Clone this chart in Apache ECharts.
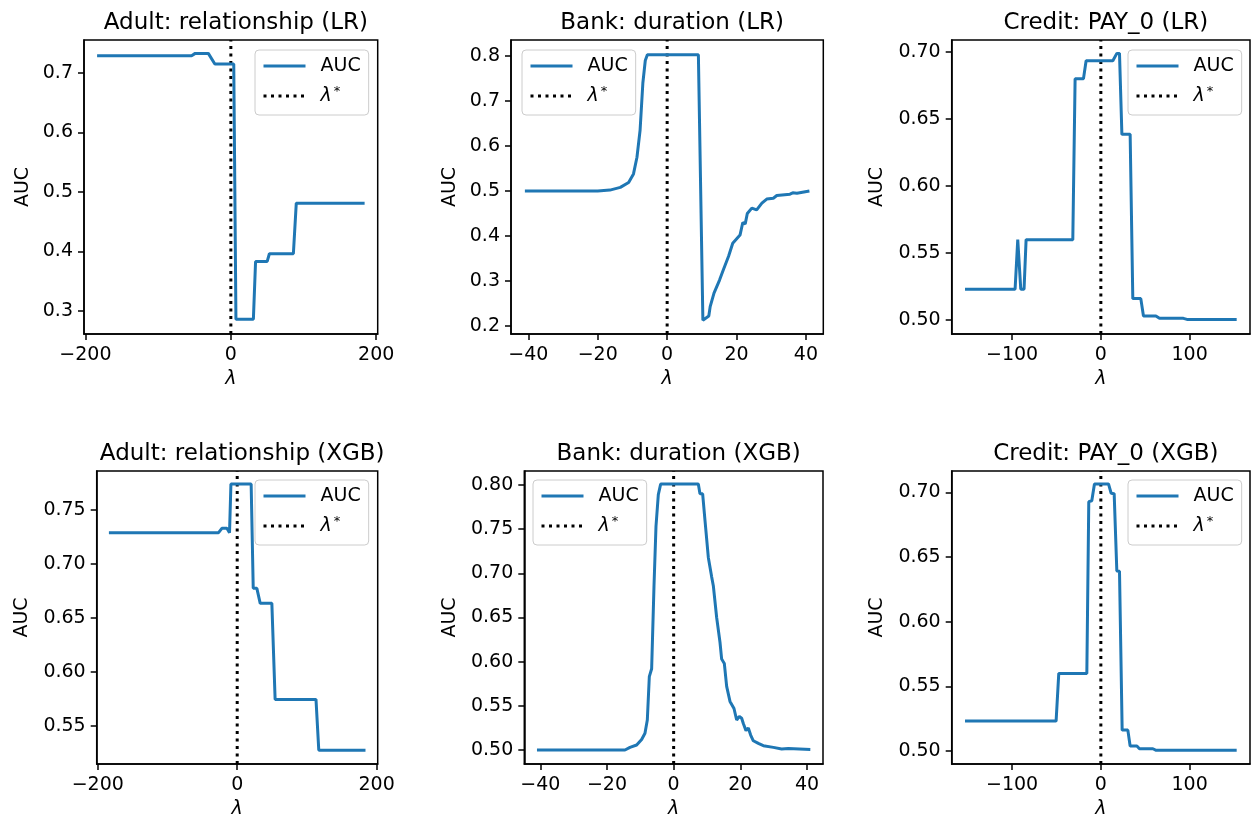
<!DOCTYPE html>
<html>
<head>
<meta charset="utf-8">
<script src="https://cdn.jsdelivr.net/npm/echarts@6/dist/echarts.min.js"></script>
<style>
  body { margin: 0; background: #fff; }
  #main { width: 1252px; height: 825px; }
</style>
</head>
<body>
<div id="main"></div>
<script>
// [lambda, AUC] points
var adultLR = [[-184, 0.729], [-54, 0.729], [-49, 0.733], [-31, 0.733], [-22, 0.715], [4, 0.715], [7, 0.286],
  [31, 0.286], [34, 0.383], [50, 0.383], [53, 0.396], [86, 0.396], [90, 0.481], [184, 0.481]];
var bankLR = [[-41, 0.5], [-20, 0.5], [-16.5, 0.502], [-13.5, 0.508], [-11.1, 0.519], [-9.7, 0.538], [-8.7, 0.575],
  [-7.8, 0.635], [-7, 0.74], [-6.3, 0.79], [-5.7, 0.803], [9, 0.803], [9.3, 0.8], [10.3, 0.213], [12, 0.222],
  [12.4, 0.243], [13.5, 0.273], [15.1, 0.302], [16.2, 0.325], [17.7, 0.355], [18.9, 0.384], [21, 0.402],
  [21.8, 0.43], [22.5, 0.427], [23.1, 0.45], [24.4, 0.462], [25.8, 0.458], [27.3, 0.473], [28.7, 0.482],
  [30.6, 0.484], [31.6, 0.49], [35.4, 0.493], [36.2, 0.496], [37.4, 0.495], [41, 0.5]];
var creditLR = [[-153, 0.523], [-96.6, 0.523], [-93.6, 0.56], [-90.2, 0.523], [-86.5, 0.523], [-84.2, 0.56],
  [-31.6, 0.56], [-29, 0.68], [-19.6, 0.68], [-16.6, 0.6935], [13.5, 0.6935], [15, 0.6928], [18, 0.699],
  [21, 0.699], [23.7, 0.6386], [33, 0.6386], [36, 0.516], [45, 0.516], [48, 0.503], [62, 0.503],
  [66, 0.5013], [93, 0.5013], [97, 0.5005], [153, 0.5005]];
var adultXGB = [[-184, 0.729], [-26.7, 0.729], [-22, 0.733], [-14.8, 0.733], [-11, 0.729], [-9, 0.774],
  [20, 0.774], [23, 0.6775], [28.2, 0.6775], [33, 0.6636], [49.7, 0.6636], [54.4, 0.5747], [113, 0.5747],
  [117, 0.5278], [184, 0.5278]];
var bankXGB = [[-41, 0.5], [-14.6, 0.5], [-13.1, 0.503], [-11.1, 0.5057], [-9.6, 0.512], [-8.6, 0.519],
  [-7.9, 0.534], [-7.3, 0.583], [-6.6, 0.592], [-5.9, 0.685], [-5.3, 0.753], [-4.6, 0.789], [-3.9, 0.801],
  [7.4, 0.801], [7.9, 0.79], [8.7, 0.79], [9.4, 0.76], [10.4, 0.718], [11.4, 0.696], [11.9, 0.686],
  [12.9, 0.65], [13.9, 0.622], [14.4, 0.603], [15.2, 0.598], [15.9, 0.572], [16.9, 0.555], [18.1, 0.547],
  [18.9, 0.534], [19.7, 0.538], [20.4, 0.536], [20.9, 0.53], [21.7, 0.522], [22.4, 0.525], [23.1, 0.517],
  [23.9, 0.5105], [25.4, 0.5075], [26.9, 0.5049], [29.9, 0.503], [32.4, 0.5011], [34.4, 0.5017], [41, 0.5007]];
var creditXGB = [[-153, 0.5232], [-50.4, 0.5232], [-47.4, 0.56], [-15.8, 0.56], [-13.6, 0.6928], [-10.2, 0.6935],
  [-7.2, 0.7065], [8.6, 0.7065], [11.6, 0.6993], [15, 0.699], [18, 0.6392], [21, 0.639], [24, 0.5162],
  [30.4, 0.5162], [33, 0.5039], [40.6, 0.5039], [43.5, 0.5018], [58.6, 0.5018], [62.3, 0.5006], [153, 0.5006]];

var titles = ['Adult: relationship (LR)', 'Bank: duration (LR)', 'Credit: PAY_0 (LR)',
  'Adult: relationship (XGB)', 'Bank: duration (XGB)', 'Credit: PAY_0 (XGB)'];
var lambdaStar = [0, 0, 0, 0, 0, 0];
var xTicksAdult = [-200, 0, 200];
var xTicksBank = [-40, -20, 0, 20, 40];
var xTicksCredit = [-100, 0, 100];
var yTicksAdultLR = [0.3, 0.4, 0.5, 0.6, 0.7];
var yTicksBankLR = [0.2, 0.3, 0.4, 0.5, 0.6, 0.7, 0.8];
var yTicksCreditLR = [0.5, 0.55, 0.6, 0.65, 0.7];
var yTicksAdultXGB = [0.55, 0.6, 0.65, 0.7, 0.75];
var yTicksBankXGB = [0.5, 0.55, 0.6, 0.65, 0.7, 0.75, 0.8];
var yTicksCreditXGB = [0.5, 0.55, 0.6, 0.65, 0.7];

var FONT = 'DejaVu Sans';
var panels = [
  { data: adultLR, box: [84, 40, 293.7, 294], xlim: [-202, 202], ylim: [0.261, 0.7555], xt: xTicksAdult, yt: yTicksAdultLR, dec: 1, leg: [255, 50], yGap: 51 },
  { data: bankLR, box: [511, 40, 312.3, 294], xlim: [-45, 45], ylim: [0.1822, 0.8356], xt: xTicksBank, yt: yTicksBankLR, dec: 1, leg: [522, 50], yGap: 51 },
  { data: creditLR, box: [951.7, 40, 298.3, 294], xlim: [-168, 168], ylim: [0.4896, 0.709], xt: xTicksCredit, yt: yTicksCreditLR, dec: 2, leg: [1128, 50], yGap: 65 },
  { data: adultXGB, box: [96.7, 471, 281, 293], xlim: [-201.5, 201.5], ylim: [0.515, 0.786], xt: xTicksAdult, yt: yTicksAdultXGB, dec: 2, leg: [255, 480], yGap: 65 },
  { data: bankXGB, box: [524.3, 471, 298.7, 293], xlim: [-44.8, 44.8], ylim: [0.4842, 0.8158], xt: xTicksBank, yt: yTicksBankXGB, dec: 2, leg: [533, 480], yGap: 65 },
  { data: creditXGB, box: [951.7, 471, 298.3, 293], xlim: [-168, 168], ylim: [0.49, 0.7165], xt: xTicksCredit, yt: yTicksCreditXGB, dec: 2, leg: [1128, 480], yGap: 65 }
];

function numFmt(dec) {
  return function (v) {
    var s = dec === null ? String(Math.abs(Math.round(v))) : Math.abs(v).toFixed(dec);
    return v < 0 ? '\u2212' + s : s;
  };
}

var black = { color: '#000', width: 1.5 };
var option = { animation: false, backgroundColor: '#fff', title: [], grid: [], xAxis: [], yAxis: [], series: [], legend: [] };

panels.forEach(function (p, i) {
  var b = p.box;
  option.title.push({
    text: titles[i], left: b[0] + b[2] / 2, top: b[1] - 33, textAlign: 'center',
    textStyle: { fontSize: 23, fontWeight: 'normal', color: '#000', fontFamily: FONT }
  });
  option.grid.push({
    left: b[0], top: b[1], width: b[2], height: b[3],
    show: true, borderColor: '#000', borderWidth: 1.5, backgroundColor: 'transparent'
  });
  option.xAxis.push({
    type: 'value', gridIndex: i, min: p.xlim[0], max: p.xlim[1],
    name: 'λ', nameLocation: 'middle', nameGap: 36,
    nameTextStyle: { fontSize: 19, fontStyle: 'italic', color: '#000', fontFamily: FONT },
    axisLine: { show: true, onZero: false, lineStyle: black },
    axisTick: { show: true, length: 6, customValues: p.xt, lineStyle: black },
    axisLabel: { customValues: p.xt, formatter: numFmt(null), margin: 12, fontSize: 19, color: '#000', fontFamily: FONT },
    splitLine: { show: false }
  });
  option.yAxis.push({
    type: 'value', gridIndex: i, min: p.ylim[0], max: p.ylim[1],
    name: 'AUC', nameLocation: 'middle', nameGap: p.yGap,
    nameTextStyle: { fontSize: 19, color: '#000', fontFamily: FONT },
    axisLine: { show: true, onZero: false, lineStyle: black },
    axisTick: { show: true, length: 6, customValues: p.yt, lineStyle: black },
    axisLabel: { customValues: p.yt, formatter: numFmt(p.dec), margin: 11, fontSize: 19, color: '#000', fontFamily: FONT },
    splitLine: { show: false }
  });
  option.series.push({
    name: 'AUC', type: 'line', xAxisIndex: i, yAxisIndex: i, data: p.data,
    symbol: 'none', lineStyle: { color: '#1f77b4', width: 3 }, itemStyle: { color: '#1f77b4' }, z: 3
  });
  option.series.push({
    name: 'λ*', type: 'line', xAxisIndex: i, yAxisIndex: i,
    data: [[lambdaStar[i], p.ylim[0]], [lambdaStar[i], p.ylim[1]]],
    symbol: 'none', lineStyle: { color: '#000', width: 3, type: [3, 4.5] }, itemStyle: { color: '#000' }, z: 2
  });
  option.legend.push({
    orient: 'vertical', left: p.leg[0], top: p.leg[1], data: ['AUC', 'λ*'], selectedMode: false,
    itemWidth: 42, itemHeight: 14, itemGap: 8, padding: [5, 8, 8, 7],
    itemStyle: { opacity: 0 },
    lineStyle: { width: 3 },
    backgroundColor: 'rgba(255,255,255,0.8)', borderColor: '#cccccc', borderWidth: 1, borderRadius: 4,
    formatter: function (name) { return name === 'λ*' ? '{lam|λ}{sup|*}' : name; },
    textStyle: {
      fontSize: 19, color: '#000', fontFamily: FONT, lineHeight: 22, padding: [0, 0, 0, 10],
      rich: {
        lam: { fontSize: 19, fontStyle: 'italic', color: '#000', fontFamily: FONT },
        sup: { fontSize: 13, color: '#000', fontFamily: FONT, padding: [0, 0, 9, 2] }
      }
    }
  });
});

var myChart = echarts.init(document.getElementById('main'));
myChart.setOption(option);
</script>
</body>
</html>
